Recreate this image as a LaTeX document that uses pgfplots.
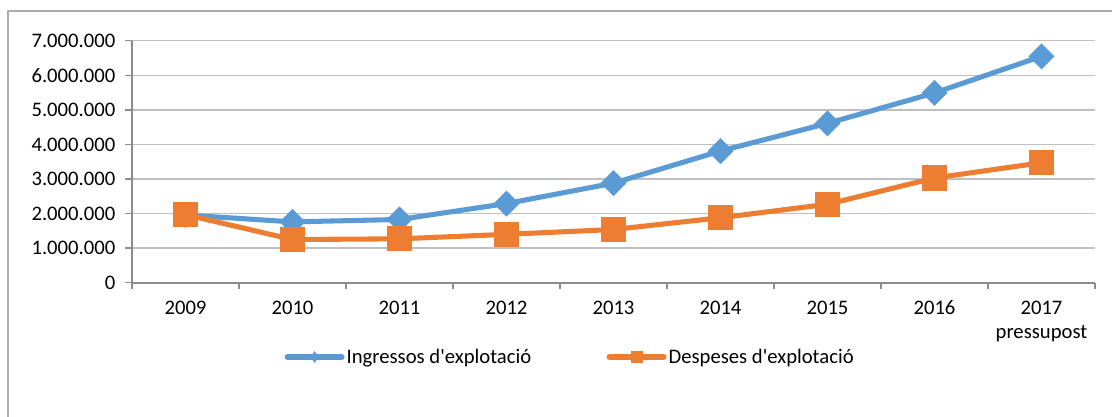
\documentclass[border=0pt]{standalone}
\usepackage{fontspec}
\setmainfont{Carlito}[Ligatures=TeXOff]
\usepackage{pgfplots}
\pgfplotsset{compat=1.18}

\definecolor{ingblue}{HTML}{5B9BD5}
\definecolor{desorange}{HTML}{ED7D31}
\definecolor{gridgray}{HTML}{BFBFBF}
\definecolor{axisgray}{HTML}{8C8C8C}
\definecolor{framegray}{HTML}{ABABAB}

% ingressos i despeses d'explotacio, 2009-2017 (pressupost)
\pgfplotstableread{
x  ingressos  despeses
0  1960000    1970000
1  1760000    1250000
2  1830000    1270000
3  2290000    1400000
4  2880000    1540000
5  3810000    1880000
6  4610000    2270000
7  5490000    3030000
8  6550000    3470000
}\dades

\begin{document}
\begin{tikzpicture}
% page = 1112 x 417 px at 0.75pt/px
\path[use as bounding box] (0,0) rectangle (834pt,312.75pt);
\draw[framegray, line width=1.6pt] (6pt,0) -- (6pt,304.5pt) -- (834pt,304.5pt);

\begin{axis}[
    at={(99pt,100.7pt)}, anchor=south west,
    scale only axis,
    width=722.25pt, height=181.5pt,
    xmin=-0.5, xmax=8.5,
    ymin=0, ymax=7000000,
    scaled y ticks=false,
    axis x line*=bottom, axis y line*=left,
    axis line style={axisgray, line width=1.4pt},
    xtick={0,...,8},
    xticklabels={2009,2010,2011,2012,2013,2014,2015,2016,{2017\\pressupost}},
    xticklabel style={align=center, yshift=-5pt},
    minor xtick={-0.5,0.5,...,8.5},
    major x tick style={draw=none},
    minor x tick style={axisgray, line width=1pt},
    minor tick length=4.5pt,
    ytick={0,1000000,2000000,3000000,4000000,5000000,6000000,7000000},
    yticklabels={0,1.000.000,2.000.000,3.000.000,4.000.000,5.000.000,6.000.000,7.000.000},
    yticklabel style={xshift=-4pt},
    major y tick style={axisgray, line width=1pt},
    major tick length=5pt,
    tick align=outside,
    ymajorgrids,
    grid style={gridgray, line width=1pt},
    tick label style={font=\fontsize{15.5}{18.5}\selectfont},
    legend columns=2,
    legend style={at={(0.455,-0.307)}, anchor=center, draw=none,
        font=\fontsize{15.5}{18.5}\selectfont,
        nodes={inner sep=1.5pt},
        /tikz/every even column/.append style={column sep=55pt}},
]

\addplot[ingblue, line width=3.8pt, mark=square*, mark size=5pt,
    mark options={rotate=45, draw=none, fill=ingblue},
    legend image code/.code={
        \draw[ingblue, line width=4pt, line cap=round] (0pt,0pt) -- (41pt,0pt);
        \path[draw=none, fill=ingblue] (20.5pt,-4.5pt) -- (23.5pt,0pt) -- (20.5pt,4.5pt) -- (17.5pt,0pt) -- cycle;
    }] table[x=x, y=ingressos] {\dades};
\addlegendentry{Ingressos d'explotació}

\addplot[desorange, line width=3.8pt, mark=square*, mark size=7.5pt,
    mark options={draw=none, fill=desorange},
    legend image code/.code={
        \draw[desorange, line width=4pt, line cap=round] (0pt,0pt) -- (41pt,0pt);
        \path[draw=none, fill=desorange] (16pt,-4.5pt) rectangle (25pt,4.5pt);
    }] table[x=x, y=despeses] {\dades};
\addlegendentry{Despeses d'explotació}

\end{axis}
\end{tikzpicture}
\end{document}
